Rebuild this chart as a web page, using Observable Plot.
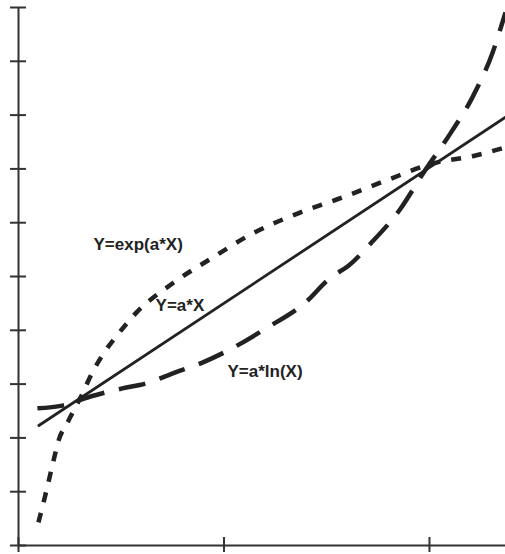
<!DOCTYPE html>
<html>
<head>
<meta charset="utf-8">
<script src="https://cdn.jsdelivr.net/npm/d3@7"></script>
<script src="https://cdn.jsdelivr.net/npm/@observablehq/plot@0.6"></script>
<style>
  html, body { margin: 0; padding: 0; background: #fff; }
</style>
</head>
<body>
<div id="chart"></div>
<script>
// Straight line Y=a*X
const linX = [0.099, 2.37];
const linY = [2.23, 7.96];

// Dotted curve (labelled Y=exp(a*X))
const expX = [0.097, 0.136, 0.165, 0.195, 0.243, 0.302, 0.360, 0.414, 0.487, 0.569, 0.749, 0.944, 1.139, 1.358, 1.577, 1.786, 2.015, 2.224, 2.370];
const expY = [0.43, 1.02, 1.49, 1.95, 2.32, 2.75, 3.22, 3.57, 3.94, 4.31, 4.87, 5.35, 5.80, 6.17, 6.47, 6.78, 7.10, 7.25, 7.40];

// Long-dashed curve (labelled Y=a*ln(X))
const lnX = [0.092, 0.214, 0.350, 0.506, 0.618, 0.764, 0.895, 1.017, 1.202, 1.397, 1.518, 1.606, 1.713, 1.859, 1.971, 2.102, 2.209, 2.307, 2.370];
const lnY = [2.55, 2.60, 2.77, 2.92, 3.01, 3.22, 3.40, 3.62, 4.03, 4.52, 4.98, 5.20, 5.61, 6.26, 6.93, 7.66, 8.33, 9.16, 9.91];

// Curve labels
const labelText = ["Y=exp(a*X)", "Y=a*X", "Y=a*ln(X)"];
const labelX = [0.365, 0.667, 1.017];
const labelY = [5.6, 4.46, 3.23];

// Axis ticks (no tick labels in the original)
const xTicks = [0, 1, 2];
const yTicks = [0, 1, 2, 3, 4, 5, 6, 7, 8, 9, 10];

const toRows = (xs, ys) => xs.map((x, i) => ({x, y: ys[i]}));
const lin = toRows(linX, linY);
const expo = toRows(expX, expY);
const lnc = toRows(lnX, lnY);
const labels = labelText.map((t, i) => ({t, x: labelX[i], y: labelY[i]}));

const ink = "#222";
const axisInk = "#333";

const chart = Plot.plot({
  width: 505,
  height: 554,
  marginLeft: 18,
  marginRight: 0,
  marginTop: 7,
  marginBottom: 9,
  style: {background: "#fff", overflow: "visible"},
  x: {domain: [0, 2.37], axis: null},
  y: {domain: [0, 10], axis: null},
  marks: [
    Plot.ruleX([0], {stroke: axisInk, strokeWidth: 2}),
    Plot.ruleY([0], {stroke: axisInk, strokeWidth: 2}),
    Plot.axisY({ticks: yTicks, tickSize: 8, tickFormat: () => "", label: null, stroke: axisInk, strokeWidth: 2}),
    Plot.axisY({ticks: yTicks, tickSize: -8, tickFormat: () => "", label: null, stroke: axisInk, strokeWidth: 2}),
    Plot.axisX({ticks: xTicks, tickSize: 7, tickFormat: () => "", label: null, stroke: axisInk, strokeWidth: 2}),
    Plot.axisX({ticks: xTicks, tickSize: -8, tickFormat: () => "", label: null, stroke: axisInk, strokeWidth: 2}),
    Plot.line(lin, {x: "x", y: "y", stroke: ink, strokeWidth: 2.8}),
    Plot.line(expo, {x: "x", y: "y", stroke: ink, strokeWidth: 4.5, strokeDasharray: "10,11", curve: "monotone-x", strokeLinecap: "butt"}),
    Plot.line(lnc, {x: "x", y: "y", stroke: ink, strokeWidth: 4.5, strokeDasharray: "27,15", curve: "monotone-x", strokeLinecap: "butt"}),
    Plot.text(labels, {x: "x", y: "y", text: "t", textAnchor: "start", fill: ink, fontSize: 17, fontWeight: "bold", fontFamily: "Liberation Sans, Arial, sans-serif"})
  ]
});
document.getElementById("chart").appendChild(chart);
</script>
</body>
</html>
